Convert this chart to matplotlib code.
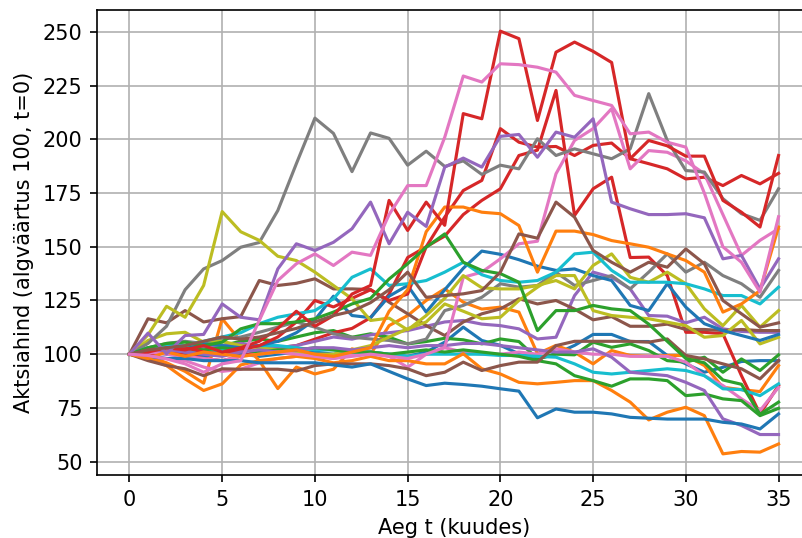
import numpy as np
import matplotlib
matplotlib.use('Agg')
import matplotlib.pyplot as plt

# aeg kuudes
t = np.arange(36)

# hinnad, loetud graafikult (3 rida iga värvi kohta, hall/oliiv/tsüaan 2)
b1 = [100, 99, 98, 98, 97, 97, 97, 96, 96, 96, 96, 95, 94, 95.5, 92, 88.5, 85.4, 86.5, 85.9, 85.1,
      83.9, 82.8, 70.4, 74.5, 73, 73, 72.2, 70.6, 70.2, 69.8, 69.8, 69.8, 68.3, 67.5, 65.2, 72.2]
b2 = [100, 102, 104, 103, 105, 104, 103, 104, 106, 110, 116, 127, 118, 117, 127, 132, 119.6, 130, 140, 148,
      146.5, 144, 141, 139, 139.7, 136.6, 134.3, 122.7, 120.3, 132.8, 121.9, 114.2, 111, 108.7, 106.4, 109.2]
b3 = [100, 101, 100, 99, 99, 100, 100, 99, 100, 101, 101, 100, 101, 101, 100, 99, 101, 105.6, 112.6, 106.4,
      104.1, 100.2, 97.8, 100.2, 104.1, 109.2, 109.2, 105.9, 105.9, 99.4, 95.5, 91.6, 93.9, 96.6, 97, 97]

o1 = [100, 98, 101, 99, 101, 100, 99, 100, 101, 102, 100, 99, 101, 103, 120, 130, 157, 168.5, 168.5, 166.1,
      165.4, 159.9, 138.2, 157.3, 157.3, 155.7, 152.9, 151.4, 149.8, 146.7, 143.6, 138.2, 119.6, 123.4, 129.6, 159.2]
o2 = [100, 99, 96, 92, 86.5, 116.5, 106, 97, 84, 94, 90.8, 93, 102.5, 100, 113.3, 118, 125, 130.4, 124.2, 121,
      121.9, 119.6, 100.2, 104.1, 100.9, 95.5, 101.7, 99.4, 99, 99.4, 99.4, 94.7, 84.6, 83.5, 82.6, 94.7]
o3 = [100, 97.8, 94.7, 88.5, 83.1, 86.2, 95, 97, 98, 99, 98, 96, 97, 99, 97, 97, 95.5, 95.5, 100.2, 93.2,
      90.8, 86.9, 86.2, 86.9, 87.7, 87.7, 83.1, 77.7, 69.4, 73, 75.3, 71.4, 53.6, 54.7, 54.4, 58.2]

g1 = [100, 103, 105, 105.6, 104, 105.6, 111.8, 114.2, 114.2, 115, 116.5, 119.6, 123.4, 126, 135, 142.1, 149.8, 156, 142.8, 139,
      137.5, 133.5, 111, 120.3, 120.3, 122.7, 121.1, 120.3, 114, 106, 98, 96, 88, 86, 72, 77.7]
g2 = [100, 102, 104, 103, 105, 104, 106, 107, 106, 108, 110, 111, 107.9, 109.5, 107.9, 104.8, 105.9, 107.4, 106.7, 104.8,
      107.1, 105.9, 97.8, 100, 99.7, 105.6, 103.2, 104.8, 101.7, 97, 96.3, 98.6, 91.6, 97.8, 92.4, 99.7]
g3 = [100, 101, 102, 103, 102, 103, 102, 101, 102, 102, 103, 102, 101, 101, 100, 101, 102, 101, 102, 101,
      100, 99, 97, 95.5, 90, 87.7, 85.1, 88.5, 88.5, 87.7, 80.7, 81.5, 79.2, 78.4, 71.4, 74.8]

r1 = [100, 101, 103, 102, 104, 101, 103, 106, 112, 120, 113, 118, 128, 132, 171.6, 157.6, 170.8, 160, 212, 209.6,
      250.4, 246.9, 208.8, 240.6, 245.3, 241, 235.8, 191, 199.5, 197, 192.2, 192.2, 171.6, 166.1, 159.2, 192.5]
r2 = [100, 102, 104, 103, 101, 100, 102, 104, 108, 115, 125, 122, 126, 130, 125, 128, 150, 163.8, 176.2, 180.9,
      205, 198.7, 196.4, 196.7, 192.5, 197.2, 198.3, 191, 188.7, 186.3, 181.6, 182.4, 178.5, 183.2, 179.3, 184.2]
r3 = [100, 99, 101, 100, 98, 97, 99, 101, 103, 104, 107, 110, 112, 117, 128, 145, 150, 155, 165, 171.6,
      177, 192.5, 195, 222.8, 164.6, 177, 182.4, 145, 145.2, 136.6, 110.2, 110.2, 109.5, 90, 72.2, 85.4]

pu1 = [100, 109.8, 100.2, 108.7, 109.2, 123.4, 117.2, 116, 139.7, 151.4, 148.3, 152.1, 158.4, 170.8, 151.4, 166.1, 159.5, 187.1, 191.3, 187.1,
       201.4, 202.3, 191.7, 203.4, 201, 209.6, 170.8, 167.7, 165, 165, 165.4, 163.5, 144.4, 146, 130.4, 144.4]
pu2 = [100, 103, 104, 102, 103, 104, 105, 104, 103, 104, 106, 108, 107, 109, 110, 111, 113, 115, 115.7, 114,
       113.3, 111.8, 107.1, 107.9, 127.3, 138.2, 135.8, 130.4, 118, 117.7, 114.6, 117.2, 111.8, 110.6, 110.2, 110.2]
pu3 = [100, 101, 102, 101, 100, 99, 101, 102, 101, 102, 103, 103, 102, 103, 104, 103, 104, 104, 105, 105,
       104, 103, 102, 101, 101, 102.5, 98.6, 91.6, 90.8, 90, 86.9, 83.1, 69.9, 66.8, 62.6, 62.6]

br1 = [100, 102, 103, 104, 106, 108, 107, 108, 110, 112, 115, 118, 120, 124, 130, 138.2, 126.5, 127.3, 128.1, 129.6,
       138.2, 156, 154, 170.8, 163.8, 148.3, 142.8, 138.2, 142.8, 140.5, 149, 142.1, 125, 118.8, 112.6, 114.6]
br2 = [100, 116.5, 114.6, 120.3, 115, 116.5, 117.5, 134.3, 132, 133, 135.1, 130.4, 130.4, 130.1, 124.2, 118.8, 113.3, 108.7, 115, 118.8,
       121.1, 125.8, 123.4, 125, 121, 116, 117.5, 113, 113, 114, 111.5, 111.5, 111, 111.5, 111, 111]
br3 = [100, 97, 94.7, 93.2, 90, 93.2, 93, 93, 93, 92.2, 94.7, 95.5, 95.5, 95.5, 94.7, 93.2, 90, 91.6, 96.3, 92.4,
       94.7, 96.3, 96.3, 104, 106, 106, 106, 106, 105.6, 107.1, 99.4, 97.8, 95.5, 93.2, 88.5, 97]

p1 = [100, 99.4, 97.8, 95.5, 91.6, 95.5, 97, 115.7, 134.3, 142.1, 146.7, 141.3, 147.5, 146, 165, 178.5, 178.5, 201, 229.5, 226.7,
      235.2, 234.8, 233.6, 231.3, 220.5, 218.1, 215.8, 202.6, 203.4, 198.7, 196.4, 175, 150, 142.8, 128.9, 164]
p2 = [100, 101, 100, 99, 98, 97, 99, 100, 101, 100, 99, 98, 99, 100, 99, 98, 100, 103.2, 135.8, 138.2,
      144.4, 151.4, 152.6, 184, 199.5, 205, 214.3, 186.3, 194.8, 194, 190, 184, 165, 146, 153, 158.4]
p3 = [100, 99, 98, 97, 94, 92, 93, 96, 98, 99, 99, 98, 100, 101, 99, 93.9, 100, 103, 101, 100,
      100, 101, 100, 102.5, 101, 100, 100, 99, 99, 99, 96.3, 90, 85.4, 79.2, 73.7, 84.6]

gr1 = [100, 105, 113, 130, 139.7, 143.6, 149.8, 152, 166.9, 188.7, 209.9, 202.8, 185, 203, 200.5, 188, 194.5, 187.4, 190, 183.7,
       188, 186.3, 200.3, 192.5, 195.6, 193.3, 191, 195.6, 221.3, 199.5, 185.5, 184.8, 172.4, 165.4, 162.3, 177]
gr2 = [100, 103, 105, 106, 105, 107, 108, 110.2, 112.6, 115, 112.6, 109.5, 107.9, 107.1, 106.4, 104.8, 107, 120.3, 122.7, 126.5,
       132.8, 131.2, 132, 138.2, 132, 134.3, 136.6, 130.4, 138.2, 146.7, 138.2, 142.8, 136.6, 132.8, 126.5, 139]

ol1 = [100, 109, 122.3, 117.2, 132, 166.4, 157, 153, 145.6, 143.6, 138.2, 132, 125.8, 115.7, 116.8, 111.3, 118, 126, 136.6, 130.9,
       130.4, 130.4, 132, 134.3, 130.4, 141.3, 146.7, 135.8, 133.5, 138.2, 132.8, 121.1, 113.3, 122.7, 112.6, 120.3]
ol2 = [100, 106.4, 109.5, 110.2, 105.6, 106, 104, 103, 102, 101, 100, 100, 102, 104, 108, 111.8, 115, 123.4, 120, 116.5,
       117.2, 125, 131.2, 136.6, 136.6, 120.3, 118, 117.2, 116.5, 114.9, 113.3, 107.9, 108.7, 115.7, 104.8, 107.9]

c1 = [100, 103, 104, 104, 106, 108, 110, 114.2, 117.2, 118.8, 120.3, 125.8, 135.8, 139.7, 132, 132.8, 134.3, 138.2, 142.8, 137,
      134.3, 133.5, 134.3, 138.2, 146.7, 147.5, 139, 133.5, 133.5, 133.5, 132.8, 130.4, 127.3, 127.3, 123.4, 131.2]
c2 = [100, 102, 103, 101, 101, 102, 103, 104, 104, 103, 102, 102, 101, 101, 100, 99, 100, 100, 100, 100,
      99.4, 99.4, 99, 98.6, 95.5, 91.6, 90.8, 91.6, 92.4, 93.2, 92.4, 90, 83.9, 83.5, 80.7, 86.2]

# järjekord = värvitsükkel (C0..C9)
paths = [b3, o2, g2, r3, pu2, br2, p3, gr2, ol2, c2,
         b2, o3, g3, r2, pu3, br3, p2, gr1, ol1, c1,
         b1, o1, g1, r1, pu1, br1, p1]

fig = plt.figure(figsize=(802 / 150, 538 / 150), dpi=150)
ax = fig.add_axes([97 / 802, 63 / 538, 714 / 802, 465 / 538])

for s in paths:
    ax.plot(t, s)

ax.set_xlabel('Aeg t (kuudes)')
ax.set_ylabel('Aktsiahind (algväärtus 100, t=0)')
ax.grid(True)

plt.savefig('out.png', dpi=150)
